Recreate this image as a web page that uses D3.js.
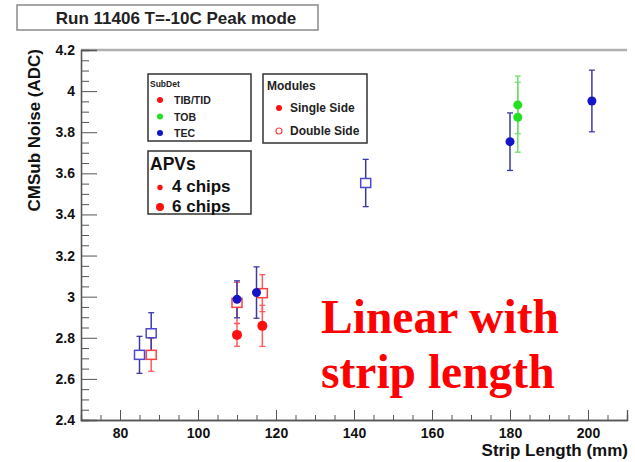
<!DOCTYPE html>
<html>
<head>
<meta charset="utf-8">
<script src="https://cdn.jsdelivr.net/npm/d3@7"></script>
<style>
  html, body { margin: 0; padding: 0; background: #fff; }
  svg text.sans { font-family: "Liberation Sans", Arial, sans-serif; font-weight: bold; }
  svg .tick text { font-family: "Liberation Sans", Arial, sans-serif; font-weight: bold; }
</style>
</head>
<body>
<svg id="chart" width="635" height="462"></svg>
<script>
// ---- data ----
const stripLength = [85, 88, 88, 110, 110, 110, 115, 116.5, 116.5, 143, 180, 182, 182, 201];
const noise       = [2.717, 2.822, 2.717, 2.97, 2.987, 2.814, 3.02, 3.017, 2.858, 3.553, 3.754, 3.933, 3.873, 3.952];
const noiseErr    = [0.09, 0.10, 0.08, 0.10, 0.09, 0.055, 0.125, 0.09, 0.10, 0.115, 0.14, 0.14, 0.17, 0.15];
const subDet      = ["TEC","TEC","TIB/TID","TIB/TID","TEC","TIB/TID","TEC","TIB/TID","TIB/TID","TEC","TEC","TOB","TOB","TEC"];
const moduleType  = ["Double","Double","Double","Double","Single","Single","Single","Double","Single","Double","Single","Single","Single","Single"];

const xTicks = [80, 100, 120, 140, 160, 180, 200];
const yTicks = [2.4, 2.6, 2.8, 3.0, 3.2, 3.4, 3.6, 3.8, 4.0, 4.2];
const subDetNames = ["TIB/TID", "TOB", "TEC"];
const moduleNames = ["Single Side", "Double Side"];
const apvNames = ["4 chips", "6 chips"];

const titleText = "Run 11406 T=-10C Peak mode";
const xTitle = "Strip Length (mm)";
const yTitle = "CMSub Noise (ADC)";
const noteLines = ["Linear with", "strip length"];

// ---- styles ----
const markColor = {"TIB/TID": "#ff1010", "TOB": "#22e022", "TEC": "#1414c8"};
const errColor  = {"TIB/TID": "#ff5a5a", "TOB": "#6fe06f", "TEC": "#3a3aa6"};
const openColor = {"TIB/TID": "#ff4040", "TOB": "#40e040", "TEC": "#4a4ad0"};

const svg = d3.select("#chart");
svg.append("rect").attr("width", 635).attr("height", 462).attr("fill", "#fff");

const x = d3.scaleLinear().domain([70, 210]).range([81, 627]);
const y = d3.scaleLinear().domain([2.4, 4.2]).range([420, 50]);

// frame top line
svg.append("line").attr("x1", 81).attr("x2", 627).attr("y1", 50).attr("y2", 50)
  .attr("stroke", "#b0b0b0").attr("stroke-width", 2.5);

// x axis
const xMinor = d3.range(75, 211, 5).filter(v => !xTicks.includes(v));
const gxMinor = svg.append("g").attr("transform", "translate(0,420)")
  .call(d3.axisBottom(x).tickValues(xMinor).tickSize(-5).tickFormat(""));
const gx = svg.append("g").attr("transform", "translate(0,420)")
  .call(d3.axisBottom(x).tickValues(xTicks).tickSize(-10).tickPadding(8).tickFormat(d3.format("d")));
gx.selectAll("text").attr("font-size", 14).attr("fill", "#111");
[gx, gxMinor].forEach(g => { g.select(".domain").attr("stroke", "#555").attr("stroke-width", 1.3); g.selectAll("line").attr("stroke", "#555"); });

// y axis
const yMinor = d3.range(2.45, 4.2, 0.05).map(v => +v.toFixed(2)).filter(v => !yTicks.some(t => Math.abs(t - v) < 1e-6));
const gyMinor = svg.append("g").attr("transform", "translate(81,0)")
  .call(d3.axisLeft(y).tickValues(yMinor).tickSize(-8).tickFormat(""));
const gy = svg.append("g").attr("transform", "translate(81,0)")
  .call(d3.axisLeft(y).tickValues(yTicks).tickSize(-16).tickPadding(6).tickFormat(d => String(+d.toFixed(1))));
gy.selectAll("text").attr("font-size", 14).attr("fill", "#111");
[gy, gyMinor].forEach(g => { g.select(".domain").attr("stroke", "#555").attr("stroke-width", 1.3); g.selectAll("line").attr("stroke", "#555"); });

// axis titles
svg.append("text").attr("class", "sans").attr("x", 628).attr("y", 456).attr("text-anchor", "end")
  .attr("font-size", 17).attr("fill", "#111").text(xTitle);
svg.append("text").attr("class", "sans").attr("transform", "translate(40,49) rotate(-90)").attr("text-anchor", "end")
  .attr("font-size", 17).attr("fill", "#111").text(yTitle);

// title box
svg.append("rect").attr("x", 17).attr("y", 5).attr("width", 301).attr("height", 25)
  .attr("fill", "#fff").attr("stroke", "#8a8a8a").attr("stroke-width", 1.5);
svg.append("text").attr("class", "sans").attr("x", 176).attr("y", 24).attr("text-anchor", "middle")
  .attr("font-size", 17).attr("fill", "#222").text(titleText);

// data
const data = stripLength.map((s, i) => ({s, v: noise[i], e: noiseErr[i], det: subDet[i], type: moduleType[i]}));
const order = ["TIB/TID", "TEC", "TOB"];
const sorted = data.slice().sort((a, b) => order.indexOf(a.det) - order.indexOf(b.det));

const gErr = svg.append("g");
sorted.forEach(d => {
  const cx = x(d.s), y1 = y(d.v + d.e), y2 = y(d.v - d.e);
  gErr.append("line").attr("x1", cx).attr("x2", cx).attr("y1", y1).attr("y2", y2)
    .attr("stroke", errColor[d.det]).attr("stroke-width", 1.5);
  [y1, y2].forEach(yy => gErr.append("line").attr("x1", cx - 3).attr("x2", cx + 3).attr("y1", yy).attr("y2", yy)
    .attr("stroke", errColor[d.det]).attr("stroke-width", 1.3));
});
const gPts = svg.append("g");
sorted.forEach(d => {
  const cx = x(d.s), cy = y(d.v);
  if (d.type === "Single") {
    gPts.append("circle").attr("cx", cx).attr("cy", cy).attr("r", d.det === "TIB/TID" ? 5 : 4.5)
      .attr("fill", markColor[d.det]);
  } else {
    gPts.append("rect").attr("x", cx - 5).attr("y", cy - 4.5).attr("width", 10).attr("height", 9)
      .attr("fill", "#fff").attr("stroke", openColor[d.det]).attr("stroke-width", 1.5);
  }
});

// legend boxes
function box(x0, y0, w, h) {
  svg.append("rect").attr("x", x0).attr("y", y0).attr("width", w).attr("height", h)
    .attr("fill", "#fff").attr("stroke", "#333").attr("stroke-width", 1.5);
}
// SubDet
box(148, 74, 103, 67);
svg.append("text").attr("class", "sans").attr("x", 150).attr("y", 87).attr("font-size", 8.5).attr("fill", "#222").text("SubDet");
subDetNames.forEach((n, i) => {
  const yy = 100 + i * 16.5;
  svg.append("circle").attr("cx", 160).attr("cy", yy).attr("r", 3).attr("fill", markColor[n]);
  svg.append("text").attr("class", "sans").attr("x", 174).attr("y", yy + 4).attr("font-size", 10.5).attr("fill", "#222").text(n);
});
// Modules
box(263, 74, 104, 69);
svg.append("text").attr("class", "sans").attr("x", 267).attr("y", 90).attr("font-size", 12).attr("fill", "#222").text("Modules");
moduleNames.forEach((n, i) => {
  const yy = 108 + i * 23;
  if (i === 0) svg.append("circle").attr("cx", 279).attr("cy", yy).attr("r", 3).attr("fill", "#ff1010");
  else svg.append("circle").attr("cx", 279).attr("cy", yy).attr("r", 3).attr("fill", "#fff").attr("stroke", "#ff4040").attr("stroke-width", 1.2);
  svg.append("text").attr("class", "sans").attr("x", 290).attr("y", yy + 4).attr("font-size", 12).attr("fill", "#222").text(n);
});
// APVs
box(148, 151, 103, 63);
svg.append("text").attr("class", "sans").attr("x", 150).attr("y", 170).attr("font-size", 17.5).attr("fill", "#111").text("APVs");
apvNames.forEach((n, i) => {
  const yy = 187.5 + i * 19.5;
  svg.append("circle").attr("cx", 160).attr("cy", yy).attr("r", i === 0 ? 2.7 : 4).attr("fill", "#ff1010");
  svg.append("text").attr("class", "sans").attr("x", 172).attr("y", yy + 4.5).attr("font-size", 17).attr("fill", "#111").text(n);
});

// annotation
const note = svg.append("text")
  .style("font-family", "'Liberation Serif', 'Times New Roman', serif")
  .style("font-weight", "bold").attr("font-size", 47.5).attr("fill", "#ff0000");
noteLines.forEach((t, i) => note.append("tspan").attr("x", 321).attr("y", 333 + i * 55).text(t));
</script>
</body>
</html>
